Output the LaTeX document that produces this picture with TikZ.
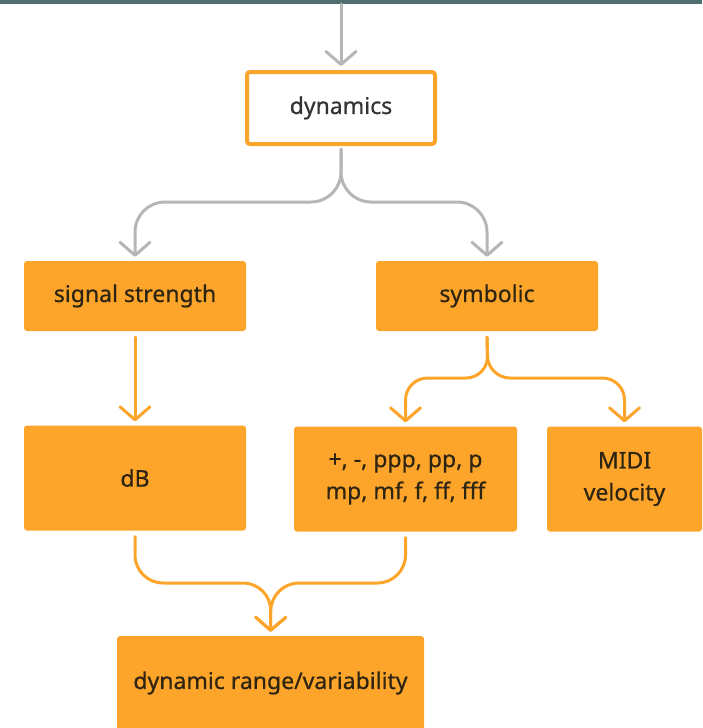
\documentclass[tikz,border=0pt]{standalone}
\usepackage{fontspec}
\setmainfont{Noto Sans}
\newfontfamily\labelfont{Noto Sans}[FakeBold=0.6]
\usetikzlibrary{arrows.meta}
\definecolor{boxorange}{HTML}{FDA52B}
\definecolor{linegray}{HTML}{B6B6B6}
\definecolor{bartop}{HTML}{4E6E6F}
\definecolor{txtdark}{HTML}{2E2412}
\tikzset{
  x=1pt, y=1pt,
  box/.style={rectangle, rounded corners=3pt, fill=boxorange, draw=none,
    text=txtdark, align=center, font=\labelfont\fontsize{23}{32}\selectfont,
    inner sep=0pt},
  topbox/.style={rectangle, rounded corners=3pt, fill=white, draw=boxorange,
    line width=4pt, text=black!80, align=center,
    font=\labelfont\fontsize{23}{32}\selectfont, inner sep=0pt},
  link/.style={line width=3pt, line cap=round, line join=round,
    -{Straight Barb[length=13pt,width=30pt,line cap=round,line join=round]},
    shorten >=4pt},
  glink/.style={link, draw=linegray},
  olink/.style={link, draw=boxorange},
}
\begin{document}
\begin{tikzpicture}
\useasboundingbox (0,0) rectangle (702,-728);
\fill[bartop] (0,0) rectangle (702,-4);

% nodes
\node[topbox, minimum width=188, minimum height=72] (dyn) at (341,-108) {dynamics};
\node[box, minimum width=222, minimum height=70] (ss) at (135,-296) {signal strength};
\node[box, minimum width=222, minimum height=70] (sym) at (487,-296) {symbolic};
\node[box, minimum width=222, minimum height=105] (db) at (135,-478) {dB};
\node[box, minimum width=223, minimum height=105] (pp) at (405.5,-479) {+, -, ppp, pp, p\\mp, mf, f, ff, fff};
\node[box, minimum width=155, minimum height=105] (midi) at (624.5,-479) {MIDI\\velocity};
\node[box, minimum width=307, minimum height=94] (dr) at (270.5,-683) {dynamic range/variability};

% junction points
\coordinate (entry) at (341,-4);
\coordinate (splitA) at (341,-202);
\coordinate (splitB) at (488,-378);
\coordinate (merge) at (271,-583);

% connectors
\draw[glink] (entry) -- (dyn.north);
\draw[glink, rounded corners=30pt] ([yshift=-3pt]dyn.south) -- (splitA) -| (ss.north);
\draw[glink, rounded corners=30pt] ([yshift=-3pt]dyn.south) -- (splitA) -| (sym.north);
\draw[olink] ([yshift=-6pt]ss.south) -- (db.north);
\draw[olink, rounded corners=22pt] ([yshift=-6pt]sym.south) -- (splitB) -| (pp.north);
\draw[olink, rounded corners=22pt] ([yshift=-6pt]sym.south) -- (splitB) -| (midi.north);
\draw[olink, rounded corners=28pt] ([yshift=-6pt]db.south) |- (merge) -- (dr.north);
\draw[olink, rounded corners=28pt] ([yshift=-6pt]pp.south) |- (merge) -- (dr.north);
\end{tikzpicture}
\end{document}
